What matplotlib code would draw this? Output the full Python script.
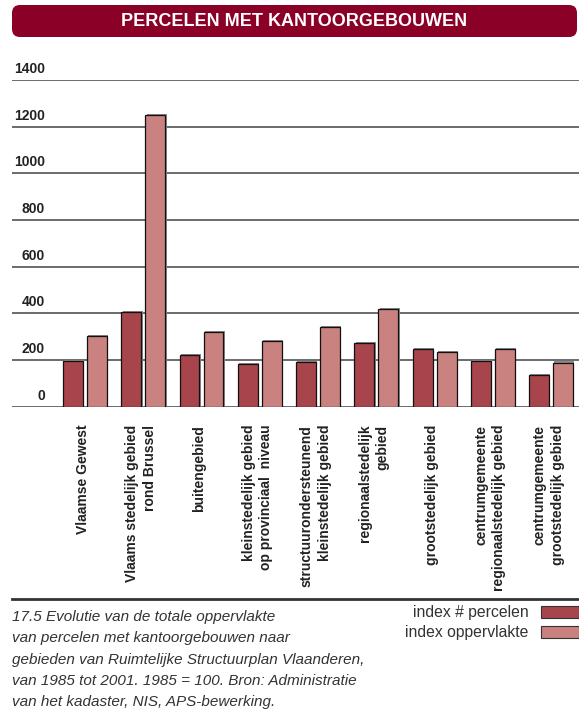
import matplotlib
matplotlib.use('Agg')
import matplotlib.pyplot as plt
import matplotlib.patheffects as pe
from matplotlib.patches import FancyBboxPatch, Patch
from matplotlib.lines import Line2D
import numpy as np

# data (index, 1985 = 100)
categories = [
    'Vlaamse Gewest',
    'Vlaams stedelijk gebied\nrond Brussel',
    'buitengebied',
    'kleinstedelijk gebied\nop provinciaal  niveau',
    'structuurondersteunend\nkleinstedelijk gebied',
    'regionaalstedelijk\ngebied',
    'grootstedelijk gebied',
    'centrumgemeente\nregionaalstedelijk gebied',
    'centrumgemeente\ngrootstedelijk gebied',
]
index_percelen = [196, 407, 221, 184, 193, 273, 246, 196, 135]
index_oppervlakte = [303, 1249, 320, 280, 340, 417, 234, 247, 189]
yticks = [0, 200, 400, 600, 800, 1000, 1200, 1400]

title = 'PERCELEN MET KANTOORGEBOUWEN'
caption = [
    '17.5 Evolutie van de totale oppervlakte',
    'van percelen met kantoorgebouwen naar',
    'gebieden van Ruimtelijke Structuurplan Vlaanderen,',
    'van 1985 tot 2001. 1985 = 100. Bron: Administratie',
    'van het kadaster, NIS, APS-bewerking.',
]

dark = '#a8444c'
light = '#c98280'
banner = '#8b0026'
txt = '#333333'

plt.rcParams['font.family'] = ['Liberation Sans', 'DejaVu Sans']

W, H = 579, 726
fig = plt.figure(figsize=(W / 100, H / 100), dpi=100)

# banner
fig.patches.append(FancyBboxPatch((0.12, (H - 37) / 100), 5.65, 0.32,
                                  boxstyle='round,pad=0,rounding_size=0.08',
                                  transform=fig.dpi_scale_trans,
                                  facecolor=banner, edgecolor='none'))
fig.text(294.5 / W, 1 - 21 / H, title, color='white', fontsize=13,
         fontweight='bold', ha='center', va='center')

ax = fig.add_axes([12 / W, 1 - 406.7 / H, 567 / W, 326.7 / H])
x = np.arange(len(categories))
bw = 0.343
off = 0.206
shadow = [pe.SimplePatchShadow(offset=(1.0, 0.8), shadow_rgbFace='#8a8a8a', alpha=1.0), pe.Normal()]
b1 = ax.bar(x - off, index_percelen, bw, color=dark, edgecolor='#111111', linewidth=0.9, zorder=3)
b2 = ax.bar(x + off, index_oppervlakte, bw, color=light, edgecolor='#111111', linewidth=0.9, zorder=3)
for b in list(b1) + list(b2):
    b.set_path_effects(shadow)

ax.set_xlim(-1.253, 8.48)
ax.set_ylim(0, 1400)
ax.set_yticks(yticks)
ax.set_yticklabels([])
ax.grid(axis='y', color='#444444', linewidth=1.1, zorder=0)
ax.set_axisbelow(True)
for s in ax.spines.values():
    s.set_visible(False)
ax.tick_params(axis='both', length=0)

for v in yticks:
    ax.annotate(str(v), xy=(33 / 567, v), xycoords=ax.get_yaxis_transform(),
                xytext=(0, 3), textcoords='offset points', ha='right', va='bottom',
                fontsize=10, fontweight='bold', color='#222222')

ax.set_xticks(x - 0.04)
ax.set_xticklabels(categories, rotation=90, ha='center', va='top',
                   multialignment='right', fontsize=10, fontweight='bold',
                   color='#222222', linespacing=1.35)
ax.tick_params(axis='x', pad=13)

# separator
fig.add_artist(Line2D([12 / W, 1], [1 - 599 / H] * 2, color='#333333', linewidth=2))

# caption
for i, line in enumerate(caption):
    fig.text(12 / W, 1 - (617 + 21.3 * i) / H, line, fontsize=11, style='italic',
             color=txt, ha='left', va='center')

# legend
handles = [Patch(facecolor=dark, edgecolor='#333333', linewidth=0.8),
           Patch(facecolor=light, edgecolor='#333333', linewidth=0.8)]
fig.legend(handles, ['index # percelen', 'index oppervlakte'],
           loc='upper right', bbox_to_anchor=(1.0, 1 - 605 / H), frameon=False,
           markerfirst=False, fontsize=11.3, handlelength=2.4, handleheight=0.8,
           handletextpad=0.8, labelspacing=0.35, borderaxespad=0,
           labelcolor=txt, borderpad=0)

fig.savefig('out.png', dpi=100)
